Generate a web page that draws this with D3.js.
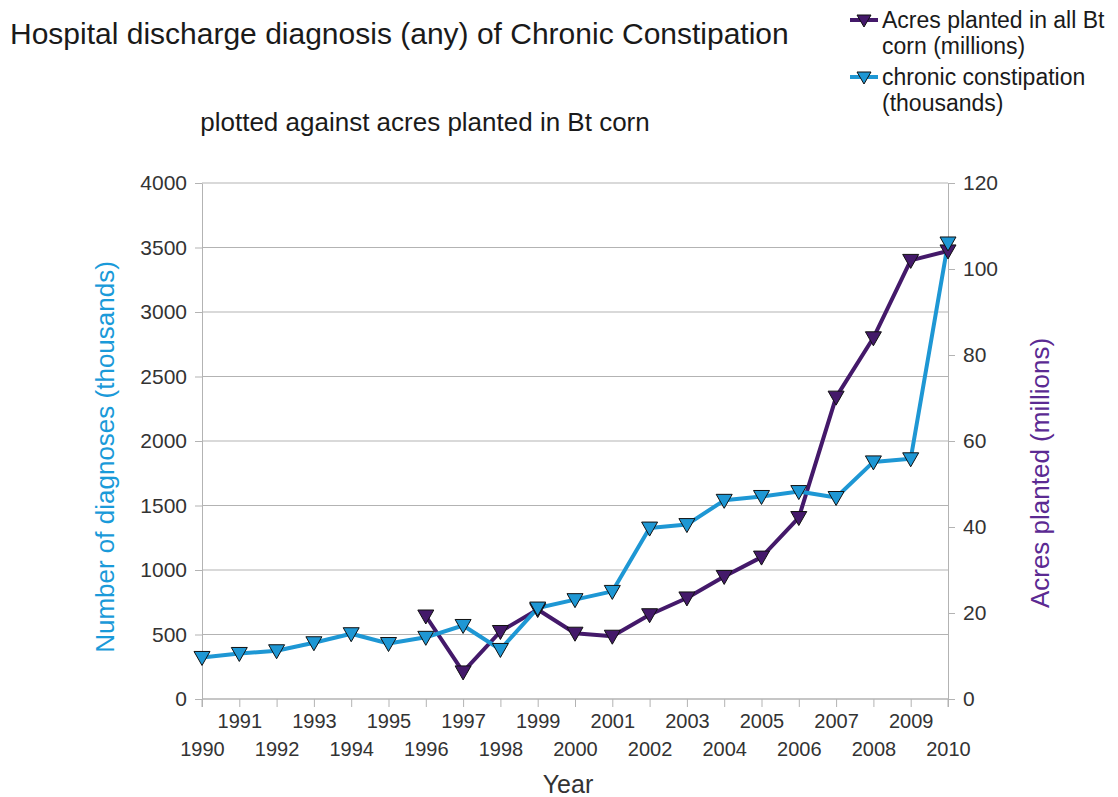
<!DOCTYPE html>
<html>
<head>
<meta charset="utf-8">
<script src="https://cdn.jsdelivr.net/npm/d3@7/dist/d3.min.js"></script>
<style>
  body { margin: 0; background: #fff; }
  svg text { font-family: "Liberation Sans", Arial, sans-serif; }
</style>
</head>
<body>
<div id="chart"></div>
<script>
// data
var years = d3.range(1990, 2011);
var constipation = [322, 353, 374, 436, 506, 430, 478, 570, 384, 705, 770, 834, 1325, 1352, 1540, 1570, 1608, 1562, 1838, 1862, 3535];
var btYears = [1996, 1997, 1998, 1999, 2000, 2001, 2002, 2003, 2004, 2005, 2006, 2007, 2008, 2009, 2010];
var btAcres = [19.3, 6.3, 15.7, 20.8, 15.3, 14.6, 19.6, 23.5, 28.5, 33, 42.2, 70.2, 84, 102, 104.2];
var leftTicks = [0, 500, 1000, 1500, 2000, 2500, 3000, 3500, 4000];
var rightTicks = [0, 20, 40, 60, 80, 100, 120];

var blue = '#1e97d4', purple = '#44196a';

var width = 1118, height = 797;
var margin = {top: 183, right: 170, bottom: 98, left: 202};
var w = width - margin.left - margin.right,
    h = height - margin.top - margin.bottom;

var svg = d3.select('#chart').append('svg')
    .attr('width', width)
    .attr('height', height);

var g = svg.append('g')
    .attr('transform', 'translate(' + margin.left + ',' + margin.top + ')');

var x = d3.scaleLinear().domain([1990, 2010]).range([0, w]);
var yL = d3.scaleLinear().domain([0, 4000]).range([h, 0]);
var yR = d3.scaleLinear().domain([0, 120]).range([h, 0]);

// grid
g.selectAll('.grid').data(leftTicks).enter().append('line')
    .attr('x1', 0).attr('x2', w)
    .attr('y1', function(d) { return yL(d); })
    .attr('y2', function(d) { return yL(d); })
    .attr('stroke', '#b3b3b3').attr('stroke-width', 1);

function styleAxis(sel) {
  sel.select('.domain').attr('stroke', '#b3b3b3');
  sel.selectAll('.tick line').attr('stroke', '#b3b3b3');
  sel.selectAll('.tick text').attr('fill', '#333').style('font-size', '21px');
}

// left axis
g.append('g')
    .call(d3.axisLeft(yL).tickValues(leftTicks).tickFormat(d3.format('d')).tickSize(7).tickSizeOuter(0).tickPadding(8))
    .call(styleAxis);

// right axis
g.append('g')
    .attr('transform', 'translate(' + w + ',0)')
    .call(d3.axisRight(yR).tickValues(rightTicks).tickSize(7).tickSizeOuter(0).tickPadding(8))
    .call(styleAxis);

// bottom axis, staggered labels
var xAxis = g.append('g')
    .attr('transform', 'translate(0,' + h + ')')
    .call(d3.axisBottom(x).tickValues(years).tickFormat(d3.format('d')).tickSize(8).tickSizeOuter(0))
    .call(styleAxis);
xAxis.selectAll('.tick text')
    .style('font-size', '20px')
    .attr('y', function(d) { return d % 2 === 1 ? 15 : 43; });
xAxis.select('.domain').attr('d', 'M0,8V0H' + w + 'V8');

// lines
var lineBlue = d3.line()
    .x(function(d, i) { return x(years[i]); })
    .y(function(d) { return yL(d); });
var linePurple = d3.line()
    .x(function(d, i) { return x(btYears[i]); })
    .y(function(d) { return yR(d); });

g.append('path').datum(btAcres)
    .attr('fill', 'none').attr('stroke', purple).attr('stroke-width', 4)
    .attr('stroke-linejoin', 'round')
    .attr('d', linePurple);

g.append('path').datum(constipation)
    .attr('fill', 'none').attr('stroke', blue).attr('stroke-width', 4)
    .attr('stroke-linejoin', 'round')
    .attr('d', lineBlue);

// down triangle markers
var tri = 'M-8,-6L8,-6L0,8Z';

g.selectAll('.mp').data(btAcres).enter().append('path')
    .attr('d', tri)
    .attr('transform', function(d, i) { return 'translate(' + x(btYears[i]) + ',' + yR(d) + ')'; })
    .attr('fill', purple).attr('stroke', '#111').attr('stroke-width', 1);

g.selectAll('.mb').data(constipation).enter().append('path')
    .attr('d', tri)
    .attr('transform', function(d, i) { return 'translate(' + x(years[i]) + ',' + yL(d) + ')'; })
    .attr('fill', blue).attr('stroke', '#111').attr('stroke-width', 1);

// titles
svg.append('text')
    .attr('x', 10).attr('y', 44)
    .style('font-size', '30px').attr('fill', '#1a1a1a')
    .text('Hospital discharge diagnosis (any) of Chronic Constipation');

svg.append('text')
    .attr('x', 425).attr('y', 131)
    .attr('text-anchor', 'middle')
    .style('font-size', '26px').attr('fill', '#1a1a1a')
    .text('plotted against acres planted in Bt corn');

svg.append('text')
    .attr('x', 568).attr('y', 793)
    .attr('text-anchor', 'middle')
    .style('font-size', '25px').attr('fill', '#333')
    .text('Year');

svg.append('text')
    .attr('transform', 'translate(114,457) rotate(-90)')
    .attr('text-anchor', 'middle')
    .style('font-size', '26px').attr('fill', '#1a9ad9')
    .text('Number of diagnoses (thousands)');

svg.append('text')
    .attr('transform', 'translate(1049,473) rotate(-90)')
    .attr('text-anchor', 'middle')
    .style('font-size', '26px').attr('fill', '#5b2a92')
    .text('Acres planted (millions)');

// legend
var legend = [
  {color: purple, lines: ['Acres planted in all Bt', 'corn (millions)'], y: 20},
  {color: blue, lines: ['chronic constipation', '(thousands)'], y: 77}
];
var lg = svg.selectAll('.legend').data(legend).enter().append('g')
    .attr('transform', function(d) { return 'translate(850,' + d.y + ')'; });
lg.append('line')
    .attr('x1', 0).attr('x2', 28).attr('y1', 0).attr('y2', 0)
    .attr('stroke', function(d) { return d.color; }).attr('stroke-width', 4);
lg.append('path')
    .attr('d', 'M-7,-5L7,-5L0,7Z')
    .attr('transform', 'translate(14,0)')
    .attr('fill', function(d) { return d.color; })
    .attr('stroke', '#111').attr('stroke-width', 1);
lg.each(function(d) {
  var t = d3.select(this).append('text')
      .attr('x', 32).attr('y', 8)
      .style('font-size', '23px').attr('fill', '#1a1a1a');
  d.lines.forEach(function(s, i) {
    t.append('tspan').attr('x', 32).attr('dy', i === 0 ? 0 : 26).text(s);
  });
});
</script>
</body>
</html>
